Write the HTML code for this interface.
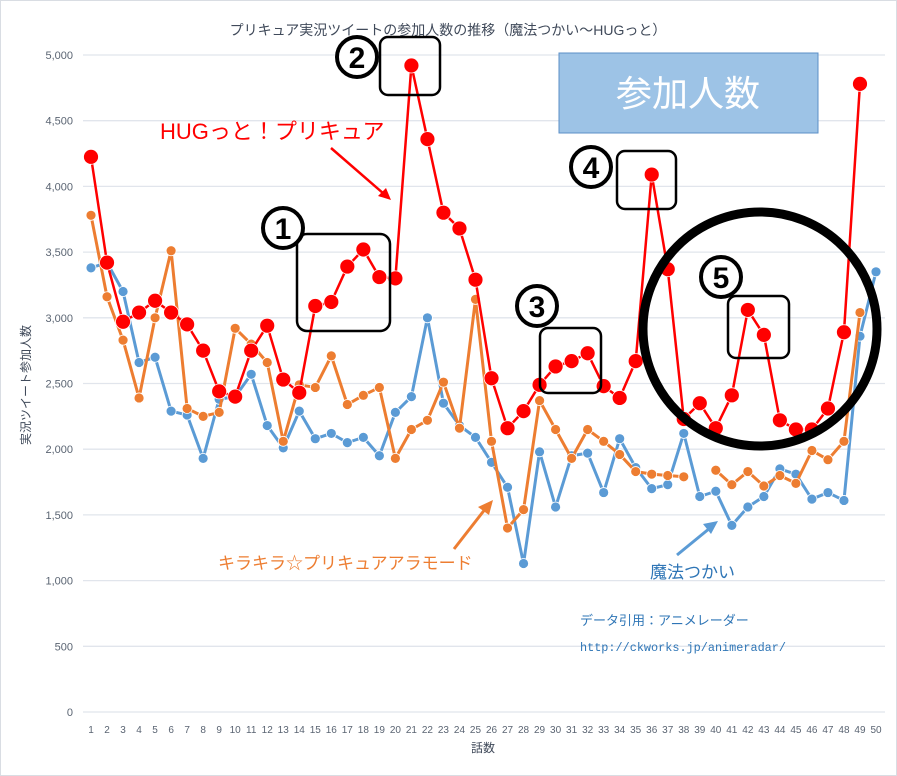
<!DOCTYPE html>
<html><head><meta charset="utf-8">
<style>
body{margin:0;background:#fff;}
svg{display:block;font-family:"Liberation Sans","Noto Sans CJK JP",sans-serif;}
</style></head>
<body>
<svg id="chart" width="897" height="776" viewBox="0 0 897 776">
<rect x="0.5" y="0.5" width="896" height="775" fill="#fff" stroke="#d9dde3"/>
<text x="448" y="35" text-anchor="middle" font-size="14" fill="#404a5a">プリキュア実況ツイートの参加人数の推移（魔法つかい～HUGっと）</text>
<g id="grid"></g>
<g id="series"></g>
<text x="30" y="385" transform="rotate(-90 30 385)" text-anchor="middle" font-size="12" fill="#404a5a">実況ツイート参加人数</text>
<text x="483" y="752" text-anchor="middle" font-size="12" fill="#404a5a">話数</text>
<g id="annot">
<rect x="559" y="53" width="259" height="80" fill="#9dc3e6" stroke="#5b8fc7"/>
<text x="688" y="106" text-anchor="middle" font-size="36" fill="#fff">参加人数</text>
<text x="160" y="139" font-size="22" fill="#ff0000">HUGっと！プリキュア</text>
<line x1="331" y1="148" x2="384" y2="194" stroke="#ff0000" stroke-width="2.5"/>
<polygon points="391,200 378,196 386,188" fill="#ff0000"/>
<text x="218" y="569" font-size="17" fill="#ed7d31">キラキラ☆プリキュアアラモード</text>
<line x1="454" y1="549" x2="486" y2="508" stroke="#ed7d31" stroke-width="3"/>
<polygon points="493,500 478,507 489,515" fill="#ed7d31"/>
<text x="650" y="578" font-size="17" fill="#2e75b6">魔法つかい</text>
<line x1="677" y1="555" x2="710" y2="528" stroke="#5b9bd5" stroke-width="3"/>
<polygon points="718,521 703,524 711,534" fill="#5b9bd5"/>
<text x="580" y="625" font-size="13" fill="#2e75b6">データ引用：アニメレーダー</text>
<text x="580" y="651" font-size="12" fill="#2e75b6" font-family="Liberation Mono,monospace" textLength="206" lengthAdjust="spacingAndGlyphs">http://ckworks.jp/animeradar/</text>
<rect x="297" y="234" width="93" height="97" rx="10" fill="none" stroke="#000" stroke-width="2.5"/>
<rect x="380" y="37" width="60" height="58" rx="8" fill="none" stroke="#000" stroke-width="2.5"/>
<rect x="540" y="328" width="61" height="65" rx="8" fill="none" stroke="#000" stroke-width="2.5"/>
<rect x="617" y="151" width="59" height="58" rx="8" fill="none" stroke="#000" stroke-width="2.5"/>
<rect x="728" y="296" width="61" height="62" rx="8" fill="none" stroke="#000" stroke-width="2.5"/>
<circle cx="760" cy="329" r="117" fill="none" stroke="#000" stroke-width="9"/>
<g font-size="30" font-weight="bold" text-anchor="middle" fill="#000">
<circle cx="283" cy="228" r="20" fill="#fff" stroke="#000" stroke-width="4"/>
<text x="283" y="239">1</text>
<circle cx="357" cy="57" r="20" fill="#fff" stroke="#000" stroke-width="4"/>
<text x="357" y="68">2</text>
<circle cx="537" cy="306" r="20" fill="#fff" stroke="#000" stroke-width="4"/>
<text x="537" y="317">3</text>
<circle cx="591" cy="167" r="20" fill="#fff" stroke="#000" stroke-width="4"/>
<text x="591" y="178">4</text>
<circle cx="721" cy="277" r="20" fill="#fff" stroke="#000" stroke-width="4"/>
<text x="721" y="288">5</text>
</g>
</g>
</svg>
<script>
const episodes = Array.from({length:50},(_, i)=>i+1);
const yTicks = [0,500,1000,1500,2000,2500,3000,3500,4000,4500,5000];
const yTickLabels = ["0","500","1,000","1,500","2,000","2,500","3,000","3,500","4,000","4,500","5,000"];
const mahoValues = [3380,3420,3200,2660,2700,2290,2260,1930,2380,2400,2570,2180,2010,2290,2080,2120,2050,2090,1950,2280,2400,3000,2350,2180,2090,1900,1710,1130,1980,1560,1950,1970,1670,2080,1860,1700,1730,2120,1640,1680,1420,1560,1640,1850,1810,1620,1670,1610,2860,3350];
const kiraValues = [3780,3160,2830,2390,3000,3510,2310,2250,2280,2920,2800,2660,2060,2490,2470,2710,2340,2410,2470,1930,2150,2220,2510,2160,3140,2060,1400,1540,2370,2150,1930,2150,2060,1960,1830,1810,1800,1790,null,1840,1730,1830,1720,1800,1740,1990,1920,2060,3040,null];
const hugValues = [4225,3420,2970,3040,3130,3040,2950,2750,2440,2400,2750,2940,2530,2430,3090,3120,3390,3520,3310,3300,4920,4360,3800,3680,3290,2540,2160,2290,2490,2630,2670,2730,2480,2390,2670,4090,3370,2230,2350,2160,2410,3060,2870,2220,2150,2150,2310,2890,4780,null];

const NS='http://www.w3.org/2000/svg';
const x = ep => 91 + (ep-1)*(785/49);
const y = v => 712 - v*(657/5000);
function mk(tag, attrs, parent){const e=document.createElementNS(NS,tag);for(const k in attrs)e.setAttribute(k,attrs[k]);parent.appendChild(e);return e;}

const grid=document.getElementById('grid');
yTicks.forEach((t,i)=>{
  const l=mk('line',{x1:83,x2:885,y1:y(t),y2:y(t),stroke:'#e1e5ec','stroke-width':1.3},grid);
  
  
  const tx=mk('text',{x:73,y:y(t)+4,'text-anchor':'end','font-size':11,fill:'#5a6472'},grid);
  tx.textContent=yTickLabels[i];
  
  
});
episodes.forEach(ep=>{
  const tx=mk('text',{x:x(ep),y:733,'text-anchor':'middle','font-size':10,fill:'#5a6472'},grid);
  tx.textContent=ep;
  
  
});

const sg=document.getElementById('series');
function drawSeries(vals,color,lw,r,name){
  const g=mk('g',{},sg);
  
  
  let d='',pen=false;
  vals.forEach((v,i)=>{
    if(v==null){pen=false;return;}
    d+=(pen?'L':'M')+x(episodes[i])+' '+y(v)+' ';pen=true;
  });
  const p=mk('path',{d:d,fill:'none',stroke:color,'stroke-width':lw,'stroke-linejoin':'round'},g);
  
  
  vals.forEach((v,i)=>{
    if(v==null)return;
    const c=mk('circle',{cx:x(episodes[i]),cy:y(v),r:r,fill:color,stroke:'#fff','stroke-width':0.8},g);
    
    
  });
}
drawSeries(mahoValues,'#5b9bd5',3,5,'maho');
drawSeries(kiraValues,'#ed7d31',3,5,'kira');
drawSeries(hugValues,'#ff0000',2.5,7.5,'hug');
</script>
</body></html>
